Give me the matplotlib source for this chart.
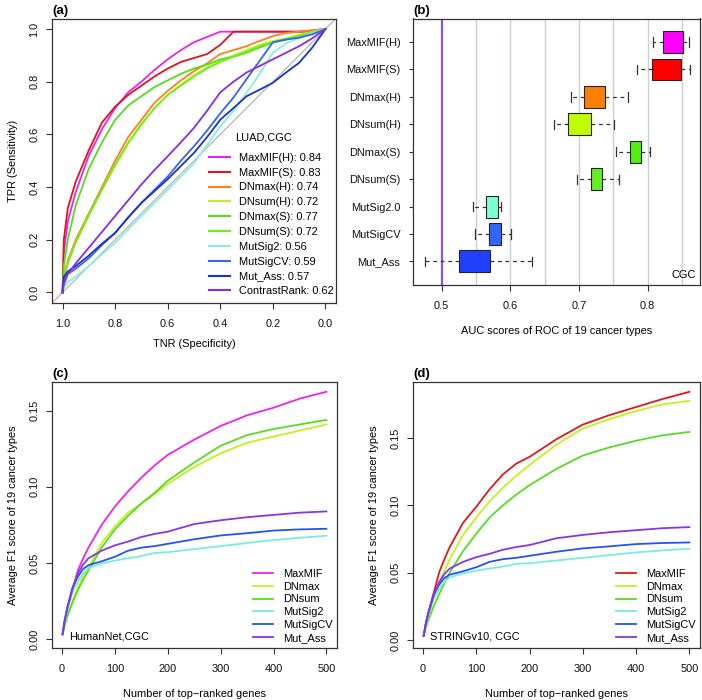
import matplotlib
matplotlib.use('Agg')
import matplotlib.pyplot as plt
import numpy as np

FS = 7.9
plt.rcParams['font.family'] = ['Liberation Sans', 'DejaVu Sans']
plt.rcParams['font.size'] = FS
plt.rcParams['axes.linewidth'] = 0.9
plt.rcParams['axes.edgecolor'] = '#333333'
plt.rcParams['xtick.color'] = '#333333'
plt.rcParams['ytick.color'] = '#333333'
plt.rcParams['xtick.labelcolor'] = '#111111'
plt.rcParams['ytick.labelcolor'] = '#111111'

# ---------------- Panel (a): ROC curves, LUAD, CGC ----------------
roc_tnr = [1.0, 0.995, 0.98, 0.95, 0.9, 0.85, 0.8, 0.75, 0.7, 0.65, 0.6, 0.55,
           0.5, 0.45, 0.4, 0.35, 0.3, 0.25, 0.2, 0.15, 0.1, 0.05, 0.0]
roc_names = ['MaxMIF(H): 0.84', 'MaxMIF(S): 0.83', 'DNmax(H): 0.74', 'DNsum(H): 0.72',
             'DNmax(S): 0.77', 'DNsum(S): 0.72', 'MutSig2: 0.56', 'MutSigCV: 0.59',
             'Mut_Ass: 0.57', 'ContrastRank: 0.62']
roc_colors = ['#EE22EE', '#E0141E', '#FF7F1A', '#C4F020', '#55DD22', '#6CEE22',
              '#88EEE0', '#3366EE', '#1A33CC', '#8A2BE2']
tpr_maxmif_h = [0, 0.15, 0.27, 0.38, 0.52, 0.62, 0.70, 0.76, 0.80, 0.845, 0.885, 0.92,
                0.95, 0.97, 0.99, 0.99, 0.99, 0.99, 0.99, 0.99, 0.99, 0.995, 1.0]
tpr_maxmif_s = [0, 0.20, 0.32, 0.42, 0.54, 0.645, 0.705, 0.75, 0.785, 0.82, 0.85, 0.875,
                0.89, 0.905, 0.94, 0.99, 0.99, 0.99, 0.99, 0.99, 0.99, 0.99, 1.0]
tpr_dnmax_h = [0, 0.06, 0.12, 0.20, 0.30, 0.40, 0.50, 0.59, 0.655, 0.72, 0.765, 0.805,
               0.84, 0.87, 0.905, 0.92, 0.935, 0.955, 0.973, 0.985, 0.99, 0.995, 1.0]
tpr_dnsum_h = [0, 0.05, 0.11, 0.19, 0.29, 0.39, 0.48, 0.565, 0.635, 0.70, 0.75, 0.79,
               0.825, 0.855, 0.88, 0.90, 0.92, 0.94, 0.955, 0.965, 0.978, 0.99, 1.0]
tpr_dnmax_s = [0, 0.10, 0.20, 0.33, 0.47, 0.57, 0.655, 0.71, 0.745, 0.78, 0.805, 0.83,
               0.85, 0.865, 0.885, 0.895, 0.91, 0.93, 0.948, 0.96, 0.973, 0.985, 1.0]
tpr_dnsum_s = [0, 0.05, 0.11, 0.19, 0.295, 0.39, 0.485, 0.57, 0.64, 0.70, 0.75, 0.785,
               0.82, 0.85, 0.875, 0.895, 0.915, 0.935, 0.95, 0.962, 0.975, 0.988, 1.0]
tpr_mutsig2 = [0, 0.02, 0.04, 0.06, 0.10, 0.145, 0.188, 0.24, 0.29, 0.34, 0.39, 0.44,
               0.49, 0.56, 0.63, 0.69, 0.758, 0.83, 0.91, 0.945, 0.967, 0.985, 1.0]
tpr_mutsigcv = [0, 0.05, 0.07, 0.09, 0.13, 0.18, 0.226, 0.285, 0.34, 0.39, 0.44, 0.50,
                0.555, 0.615, 0.68, 0.74, 0.81, 0.88, 0.95, 0.96, 0.967, 0.98, 1.0]
tpr_mut_ass = [0, 0.06, 0.08, 0.10, 0.14, 0.185, 0.226, 0.285, 0.34, 0.385, 0.43, 0.48,
               0.53, 0.59, 0.656, 0.70, 0.745, 0.77, 0.796, 0.835, 0.872, 0.93, 1.0]
tpr_contrastrank = [0, 0.03, 0.07, 0.11, 0.17, 0.23, 0.29, 0.35, 0.41, 0.465, 0.517, 0.57,
                    0.625, 0.69, 0.76, 0.80, 0.835, 0.86, 0.885, 0.91, 0.935, 0.965, 1.0]
roc_tprs = [tpr_maxmif_h, tpr_maxmif_s, tpr_dnmax_h, tpr_dnsum_h, tpr_dnmax_s,
            tpr_dnsum_s, tpr_mutsig2, tpr_mutsigcv, tpr_mut_ass, tpr_contrastrank]
roc_legend_title = 'LUAD,CGC'

# ---------------- Panel (b): AUC box plots ----------------
box_names = ['MaxMIF(H)', 'MaxMIF(S)', 'DNmax(H)', 'DNsum(H)', 'DNmax(S)',
             'DNsum(S)', 'MutSig2.0', 'MutSigCV', 'Mut_Ass']
box_colors = ['#FF00FF', '#FF0000', '#FF8000', '#BFFF00', '#55EE11', '#66EE22',
              '#7FFFD4', '#3366FF', '#2040FF']
box_whislo = [0.808, 0.785, 0.688, 0.663, 0.754, 0.697, 0.545, 0.5485, 0.475]
box_q1 = [0.822, 0.807, 0.707, 0.684, 0.775, 0.717, 0.5646, 0.5694, 0.525]
box_med = [0.8466, 0.831, 0.720, 0.705, 0.783, 0.725, 0.571, 0.578, 0.541]
box_q3 = [0.8524, 0.8485, 0.738, 0.718, 0.791, 0.734, 0.5816, 0.586, 0.570]
box_whishi = [0.8607, 0.862, 0.771, 0.751, 0.803, 0.758, 0.586, 0.601, 0.6316]
grid_x = [0.55, 0.6, 0.65, 0.7, 0.75, 0.8, 0.85]

# ---------------- Panels (c), (d): average F1 ----------------
n_genes = [1, 5, 10, 20, 30, 40, 50, 75, 100, 125, 150, 175, 200, 250, 300, 350, 400, 450, 500]
f1_names = ['MaxMIF', 'DNmax', 'DNsum', 'MutSig2', 'MutSigCV', 'Mut_Ass']
f1_colors_c = ['#EE22EE', '#C4F020', '#55DD22', '#77EEDD', '#2255EE', '#8833EE']
f1_colors_d = ['#E01818', '#C4F020', '#55DD22', '#77EEDD', '#2255EE', '#8833EE']
c_maxmif = [0.003, 0.012, 0.020, 0.033, 0.045, 0.053, 0.060, 0.075, 0.087, 0.097, 0.106,
            0.114, 0.121, 0.131, 0.140, 0.147, 0.152, 0.158, 0.1625]
c_dnmax = [0.003, 0.009, 0.015, 0.025, 0.034, 0.041, 0.047, 0.063, 0.074, 0.083, 0.089,
           0.095, 0.102, 0.113, 0.122, 0.129, 0.133, 0.137, 0.141]
c_dnsum = [0.003, 0.009, 0.015, 0.024, 0.032, 0.039, 0.045, 0.060, 0.072, 0.081, 0.089,
           0.096, 0.104, 0.116, 0.127, 0.134, 0.138, 0.141, 0.144]
d_maxmif = [0.003, 0.012, 0.020, 0.035, 0.050, 0.060, 0.069, 0.087, 0.099, 0.112, 0.123,
            0.131, 0.136, 0.149, 0.160, 0.167, 0.173, 0.179, 0.1843]
d_dnmax = [0.003, 0.011, 0.018, 0.031, 0.042, 0.051, 0.060, 0.078, 0.091, 0.103, 0.113,
           0.122, 0.130, 0.145, 0.157, 0.164, 0.170, 0.175, 0.1776]
d_dnsum = [0.003, 0.009, 0.015, 0.025, 0.034, 0.042, 0.050, 0.066, 0.079, 0.091, 0.100,
           0.108, 0.115, 0.127, 0.137, 0.143, 0.148, 0.152, 0.1545]
f1_mutsig2 = [0.003, 0.011, 0.019, 0.031, 0.038, 0.043, 0.0465, 0.0495, 0.0515, 0.053, 0.0545,
              0.0565, 0.057, 0.059, 0.061, 0.063, 0.065, 0.0665, 0.0678]
f1_mutsigcv = [0.003, 0.012, 0.021, 0.034, 0.041, 0.046, 0.0485, 0.051, 0.054, 0.058, 0.060,
               0.061, 0.0625, 0.0655, 0.068, 0.0695, 0.0712, 0.072, 0.0724]
f1_mut_ass = [0.003, 0.012, 0.020, 0.033, 0.043, 0.049, 0.053, 0.058, 0.0615, 0.064, 0.067,
              0.069, 0.0705, 0.0755, 0.078, 0.080, 0.0815, 0.083, 0.0838]
f1_c = [c_maxmif, c_dnmax, c_dnsum, f1_mutsig2, f1_mutsigcv, f1_mut_ass]
f1_d = [d_maxmif, d_dnmax, d_dnsum, f1_mutsig2, f1_mutsigcv, f1_mut_ass]

W, H = 702, 700
fig = plt.figure(figsize=(W / 100, H / 100), dpi=100)


def px_axes(l, t, r, b):
    return fig.add_axes([l / W, 1 - b / H, (r - l) / W, (b - t) / H])


def style_ticks(ax):
    ax.tick_params(axis='both', length=4, width=0.8, labelsize=FS)
    ax.tick_params(axis='x', pad=7.5)
    ax.tick_params(axis='y', pad=5)


# ---- (a)
axA = px_axes(52, 18.5, 336, 303)
axA.axline((1, 0), (0, 1), color='#A8B0B4', lw=0.8, zorder=1)
for tpr, col, name in zip(roc_tprs, roc_colors, roc_names):
    axA.plot(roc_tnr, tpr, color=col, lw=1.3, label=name, zorder=2)
axA.set_xlim(1.04, -0.04)
axA.set_ylim(-0.04, 1.04)
axA.set_xticks([1.0, 0.8, 0.6, 0.4, 0.2, 0.0])
axA.set_xticklabels(['1.0', '0.8', '0.6', '0.4', '0.2', '0.0'])
axA.set_yticks([0.0, 0.2, 0.4, 0.6, 0.8, 1.0])
axA.set_yticklabels(['0.0', '0.2', '0.4', '0.6', '0.8', '1.0'], rotation=90, va='center')
style_ticks(axA)
axA.set_xlabel('TNR (Specificity)', labelpad=7)
axA.set_ylabel('TPR (Sensitivity)', labelpad=8)
legA = axA.legend(loc='lower left', bbox_to_anchor=(0.553, 0.024), frameon=False,
                  fontsize=FS, handlelength=1.9, handletextpad=0.8, labelspacing=0.44,
                  borderpad=0, borderaxespad=0)
for ln in legA.get_lines():
    ln.set_linewidth(1.5)
axA.text((264 - 52) / 284, (303 - 137) / 284.5, roc_legend_title, transform=axA.transAxes,
         ha='center', va='center', fontsize=FS)

# ---- (b)
axB = px_axes(413, 18.5, 700, 285)
positions = list(range(len(box_names), 0, -1))
stats = []
for i, name in enumerate(box_names):
    stats.append(dict(label=name, whislo=box_whislo[i], q1=box_q1[i], med=box_med[i],
                      q3=box_q3[i], whishi=box_whishi[i], fliers=[]))
for gx in grid_x:
    axB.axvline(gx, color='#C8D0D4', lw=1.0, zorder=0)
axB.axvline(0.5, color='#8855DD', lw=1.6, zorder=1)
bp = axB.bxp(stats, positions=positions, widths=0.8, orientation='horizontal',
             patch_artist=True, showfliers=False, capwidths=0.34,
             boxprops=dict(edgecolor='#222222', linewidth=0.8),
             whiskerprops=dict(color='#333333', linewidth=0.9, linestyle=(0, (3, 3))),
             capprops=dict(color='#333333', linewidth=0.9),
             medianprops=dict(color='#111111', linewidth=2.0))
for patch, col in zip(bp['boxes'], box_colors):
    patch.set_facecolor(col)
    patch.set_zorder(3)
axB.set_xlim(0.4582, 0.8765)
axB.set_ylim(0.14, 9.86)
axB.set_xticks([0.5, 0.6, 0.7, 0.8])
axB.set_xticklabels(['0.5', '0.6', '0.7', '0.8'])
axB.set_yticks(positions)
axB.set_yticklabels(box_names)
style_ticks(axB)
axB.tick_params(axis='y', length=3, pad=6)
axB.set_xlabel('AUC scores of ROC of 19 cancer types', labelpad=11)
axB.text(0.985, 0.02, 'CGC', transform=axB.transAxes, ha='right', va='bottom', fontsize=FS)

# ---- (c), (d)
def f1_panel(ax, series, colors, note, ymax):
    for y, col, name in zip(series, colors, f1_names):
        ax.plot(n_genes, y, color=col, lw=1.3, label=name)
    ax.set_xlim(-19, 520)
    ax.set_ylim(-0.006, ymax)
    ax.set_xticks([0, 100, 200, 300, 400, 500])
    ax.set_yticks([0.0, 0.05, 0.10, 0.15])
    ax.set_yticklabels(['0.00', '0.05', '0.10', '0.15'], rotation=90, va='center')
    style_ticks(ax)
    ax.set_xlabel('Number of top\u2212ranked genes', labelpad=11)
    ax.set_ylabel('Average F1 score of 19 cancer types', labelpad=8)
    leg = ax.legend(loc='lower right', bbox_to_anchor=(0.985, 0.02), frameon=False,
                    fontsize=FS, handlelength=1.8, handletextpad=0.9,
                    labelspacing=0.25, borderpad=0, borderaxespad=0)
    for ln in leg.get_lines():
        ln.set_linewidth(1.3)
    ax.text(0.06, 0.045, note, transform=ax.transAxes, ha='left', va='center', fontsize=FS)


axC = px_axes(52, 382, 337, 648)
f1_panel(axC, f1_c, f1_colors_c, 'HumanNet,CGC', 0.1689)
axD = px_axes(413, 382, 700, 648)
f1_panel(axD, f1_d, f1_colors_d, 'STRINGv10, CGC', 0.1916)

for lab, x, y in [('(a)', 52, 11), ('(b)', 413, 11), ('(c)', 52, 374), ('(d)', 413, 374)]:
    fig.text(x / W, 1 - y / H, lab, fontweight='bold', fontsize=9.5, ha='left', va='center')

fig.savefig('out.png', dpi=100)
